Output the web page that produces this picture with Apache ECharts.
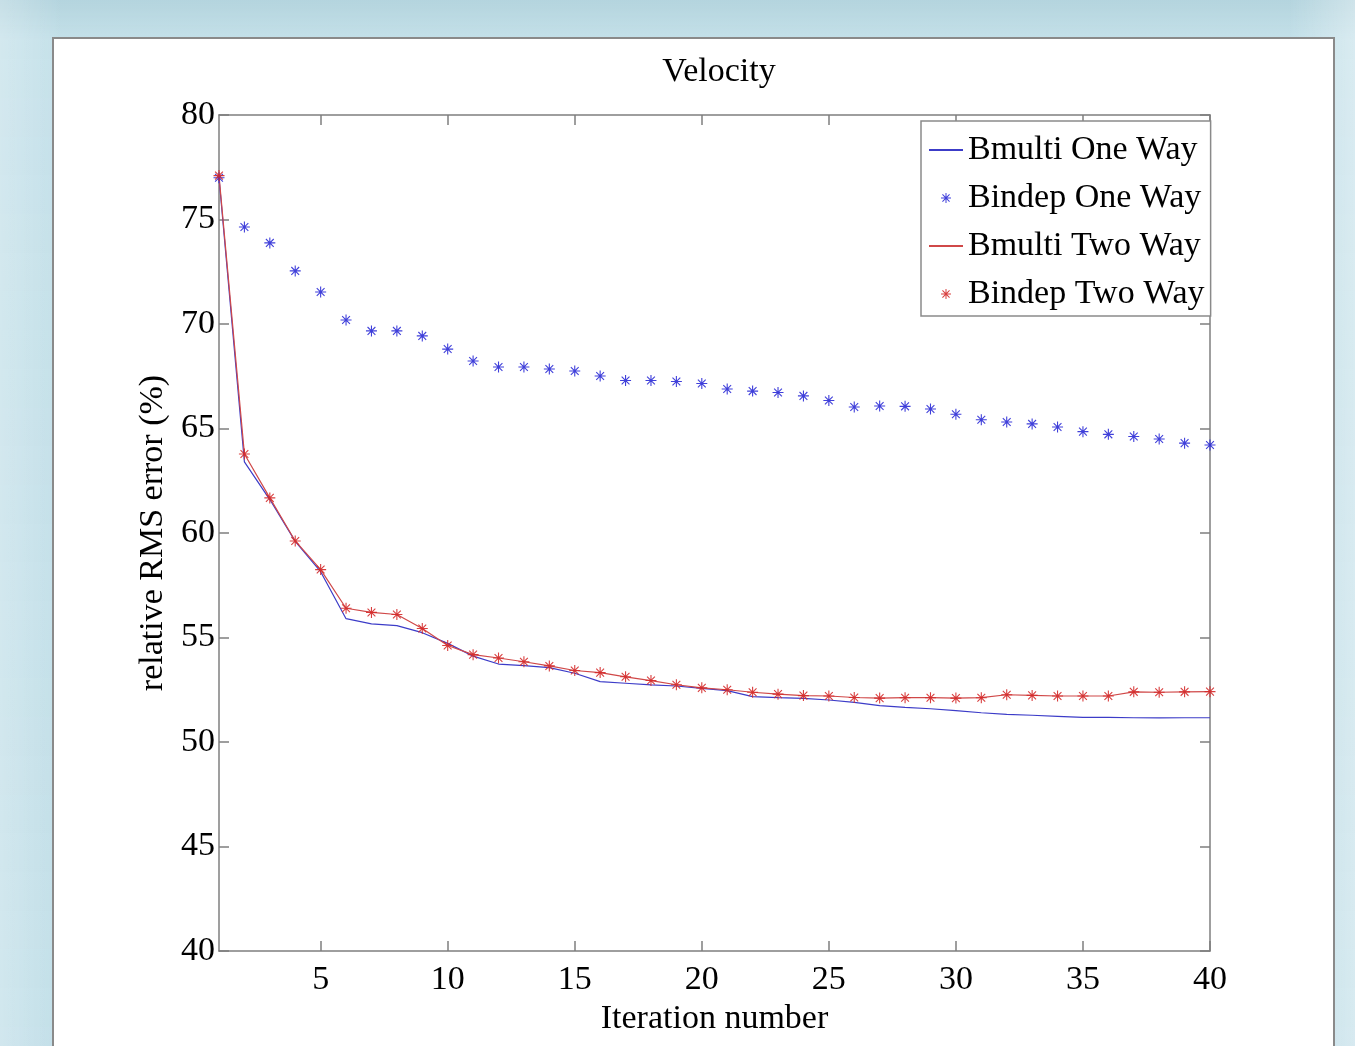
<!DOCTYPE html>
<html>
<head>
<meta charset="utf-8">
<title>Velocity</title>
<script src="https://cdn.jsdelivr.net/npm/echarts@6/dist/echarts.min.js"></script>
<style>
    html, body { margin: 0; padding: 0; width: 1355px; height: 1046px; overflow: hidden; }
    body {
        background-color: #c3dfe8;
        background-image:
            linear-gradient(90deg, rgba(255,255,255,0.25) 0px, rgba(255,255,255,0) 60px, rgba(255,255,255,0) 1290px, rgba(255,255,255,0.35) 1355px),
            linear-gradient(180deg, rgba(170,205,215,0.6) 0px, rgba(200,228,236,0.3) 40px, rgba(190,222,232,0.2) 1046px);
    }
    #panel {
        position: absolute; left: 52px; top: 37px; width: 1279px; height: 1040px;
        background: #ffffff; border: 2px solid #8a8a8a;
    }
    #chart { position: absolute; left: 0; top: 0; width: 1355px; height: 1046px; }
</style>
</head>
<body>
<div id="panel"></div>
<div id="chart"></div>
<script>
// iteration number 1..40
var iterations = [1, 2, 3, 4, 5, 6, 7, 8, 9, 10, 11, 12, 13, 14, 15, 16, 17, 18, 19, 20,
    21, 22, 23, 24, 25, 26, 27, 28, 29, 30, 31, 32, 33, 34, 35, 36, 37, 38, 39, 40];
// relative RMS error (%)
var bmultiOneWay = [77.0, 63.4, 61.6, 59.6, 58.15, 55.9, 55.65, 55.57, 55.23, 54.72,
    54.11, 53.73, 53.65, 53.56, 53.29, 52.89, 52.81, 52.73, 52.68, 52.57,
    52.46, 52.17, 52.12, 52.09, 52.01, 51.9, 51.74, 51.66, 51.59, 51.5,
    51.4, 51.32, 51.28, 51.23, 51.18, 51.18, 51.16, 51.15, 51.16, 51.16];
var bindepOneWay = [77.0, 74.64, 73.88, 72.54, 71.53, 70.19, 69.67, 69.67, 69.43, 68.8,
    68.23, 67.94, 67.94, 67.85, 67.75, 67.51, 67.3, 67.3, 67.25, 67.15,
    66.89, 66.79, 66.72, 66.56, 66.34, 66.03, 66.08, 66.06, 65.93, 65.68,
    65.42, 65.31, 65.22, 65.07, 64.85, 64.72, 64.62, 64.5, 64.3, 64.21];
var bmultiTwoWay = [77.1, 63.78, 61.68, 59.62, 58.25, 56.4, 56.2, 56.1, 55.43, 54.62,
    54.18, 54.02, 53.84, 53.64, 53.42, 53.32, 53.12, 52.94, 52.74, 52.59,
    52.5, 52.38, 52.29, 52.22, 52.2, 52.13, 52.1, 52.12, 52.12, 52.1,
    52.12, 52.26, 52.23, 52.2, 52.2, 52.2, 52.4, 52.38, 52.4, 52.41];
var bindepTwoWay = bmultiTwoWay.slice();
var xTicks = [5, 10, 15, 20, 25, 30, 35, 40];

var seriesNames = ['Bmulti One Way', 'Bindep One Way', 'Bmulti Two Way', 'Bindep Two Way'];
var blue = '#2b2bd6';
var red = '#d42a2a';
var font = '"Liberation Serif", "DejaVu Serif", serif';

// MATLAB style '*' marker
var asterisk = 'path://M-1,-10L1,-10L1,10L-1,10Z M-10,-1L10,-1L10,1L-10,1Z ' +
    'M-7.8,-6.4L-6.4,-7.8L7.8,6.4L6.4,7.8Z M6.4,-7.8L7.8,-6.4L-6.4,7.8L-7.8,6.4Z';

function toPairs(values) {
    var out = [];
    for (var i = 0; i < iterations.length; i++) {
        out.push([iterations[i], values[i]]);
    }
    return out;
}

var axisGray = '#7f7f7f';

function boxXAxis(position, showLabel) {
    return {
        type: 'value',
        position: position,
        min: 1,
        max: 40,
        axisLine: { show: true, onZero: false, lineStyle: { color: axisGray, width: 1.5 } },
        axisTick: { show: true, inside: true, length: 10, customValues: xTicks, lineStyle: { color: axisGray, width: 1.5 } },
        axisLabel: { show: showLabel, customValues: xTicks, color: '#000', fontFamily: font, fontSize: 34, margin: 12 },
        splitLine: { show: false },
        name: showLabel ? 'Iteration number' : '',
        nameLocation: 'middle',
        nameGap: 48,
        nameTextStyle: { color: '#000', fontFamily: font, fontSize: 34 }
    };
}

function boxYAxis(position, showLabel) {
    return {
        type: 'value',
        position: position,
        min: 40,
        max: 80,
        interval: 5,
        axisLine: { show: true, onZero: false, lineStyle: { color: axisGray, width: 1.5 } },
        axisTick: { show: true, inside: true, length: 10, lineStyle: { color: axisGray, width: 1.5 } },
        axisLabel: { show: showLabel, color: '#000', fontFamily: font, fontSize: 34, margin: 4 },
        splitLine: { show: false },
        name: showLabel ? 'relative RMS error (%)' : '',
        nameLocation: 'middle',
        nameGap: 42,
        nameTextStyle: { color: '#000', fontFamily: font, fontSize: 34 }
    };
}

// legend: plain line for the line series, no dot on it
var hideDot = { color: 'rgba(0,0,0,0)', borderWidth: 0 };
var legendData = [
    { name: seriesNames[0], itemStyle: hideDot },
    { name: seriesNames[1] },
    { name: seriesNames[2], itemStyle: hideDot },
    { name: seriesNames[3] }
];

var option = {
    backgroundColor: 'transparent',
    animation: false,
    title: {
        text: 'Velocity',
        left: 714,
        top: 50,
        textAlign: 'center',
        textStyle: { color: '#000', fontFamily: font, fontSize: 34, fontWeight: 'normal' }
    },
    legend: {
        orient: 'vertical',
        left: 921,
        top: 121,
        padding: [9, 6, 2, 7],
        itemGap: 8,
        itemWidth: 34,
        itemHeight: 10,
        backgroundColor: '#ffffff',
        borderColor: '#8a8a8a',
        borderWidth: 1.5,
        borderRadius: 0,
        data: legendData,
        textStyle: { color: '#000', fontFamily: font, fontSize: 34, lineHeight: 40 }
    },
    grid: {
        left: 219,
        right: 145,
        top: 115,
        bottom: 95,
        outerBoundsMode: 'none'
    },
    xAxis: [boxXAxis('bottom', true), boxXAxis('top', false)],
    yAxis: [boxYAxis('left', true), boxYAxis('right', false)],
    series: [
        {
            name: seriesNames[0],
            type: 'line',
            symbol: 'none',
            color: blue,
            lineStyle: { color: '#3c3cc8', width: 1.2 },
            data: toPairs(bmultiOneWay),
            z: 2
        },
        {
            name: seriesNames[1],
            type: 'scatter',
            symbol: asterisk,
            symbolSize: 11,
            itemStyle: { color: blue, opacity: 0.9 },
            data: toPairs(bindepOneWay),
            z: 3
        },
        {
            name: seriesNames[2],
            type: 'line',
            symbol: 'none',
            color: red,
            lineStyle: { color: '#d04848', width: 1.2 },
            data: toPairs(bmultiTwoWay),
            z: 2
        },
        {
            name: seriesNames[3],
            type: 'scatter',
            symbol: asterisk,
            symbolSize: 11,
            itemStyle: { color: red, opacity: 0.9 },
            data: toPairs(bindepTwoWay),
            z: 3
        }
    ]
};

var chart = echarts.init(document.getElementById('chart'));
chart.setOption(option, true);
</script>
</body>
</html>
